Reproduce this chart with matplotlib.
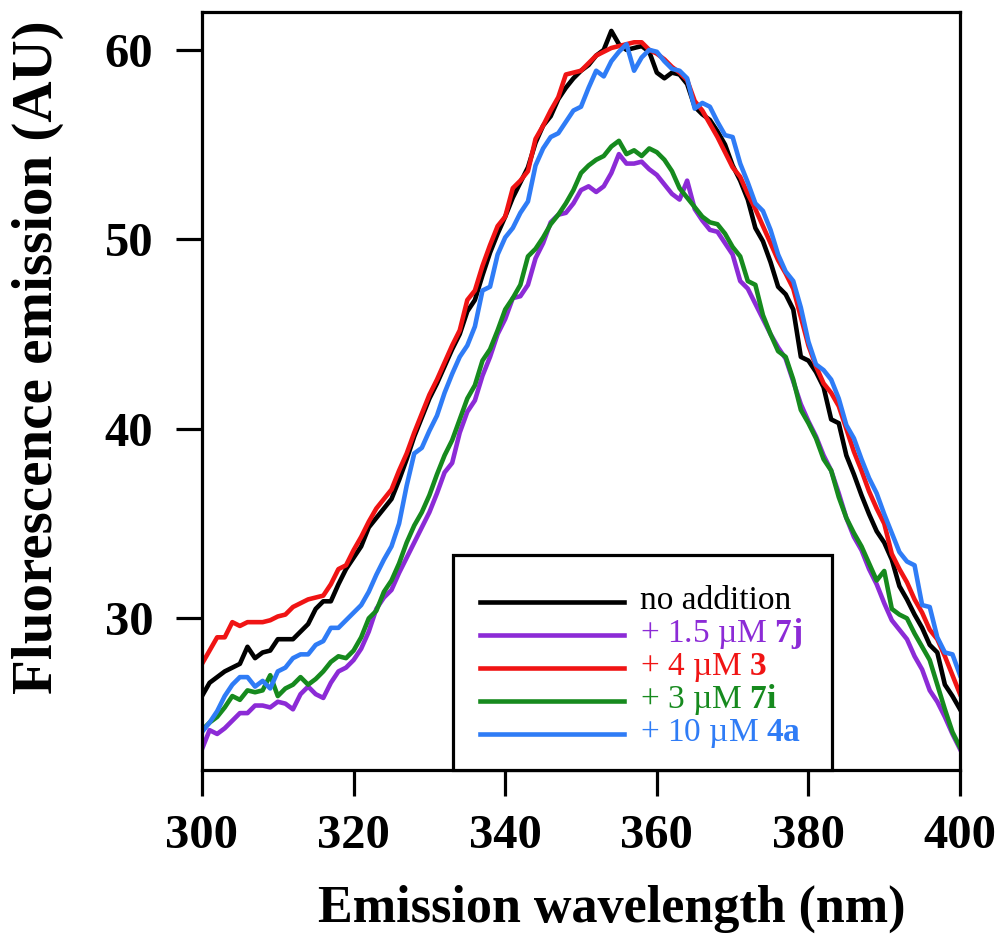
import matplotlib
matplotlib.use('Agg')
import matplotlib.pyplot as plt
from matplotlib.patches import Rectangle
import numpy as np

plt.rcParams['font.family'] = ['Liberation Serif', 'DejaVu Serif']
plt.rcParams['mathtext.fontset'] = 'custom'
plt.rcParams['mathtext.rm'] = 'Liberation Serif'
plt.rcParams['mathtext.bf'] = 'Liberation Serif:bold'

# wavelength, 1 nm steps
wavelength = np.arange(300, 401)

no_addition = [
    25.9, 26.6, 26.9, 27.2, 27.4, 27.6, 28.5, 27.9, 28.2, 28.3, 28.9, 28.9, 28.9, 29.3, 29.7, 30.5, 30.9, 30.9, 31.8, 32.6,
    33.2, 33.8, 34.8, 35.3, 35.8, 36.3, 37.3, 38.4, 39.6, 40.6, 41.6, 42.4, 43.3, 44.2, 45.0, 46.2, 46.8, 48.1, 49.3, 50.3,
    51.2, 52.2, 53.0, 53.8, 55.1, 56.0, 56.5, 57.4, 58.0, 58.5, 58.9, 59.2, 59.7, 60.0, 61.0, 60.3, 60.0, 60.1, 60.2, 59.9,
    58.8, 58.5, 58.8, 58.7, 58.2, 57.0, 56.6, 56.3, 55.7, 55.0, 53.9, 53.1, 52.1, 50.6, 49.9, 48.8, 47.5, 47.1, 46.3, 43.8,
    43.6, 43.0, 42.2, 40.5, 40.3, 38.6, 37.6, 36.5, 35.5, 34.6, 34.0, 33.1, 31.7, 31.0, 30.2, 29.5, 28.6, 28.2, 26.5, 25.9,
    25.2]

cpd_7j = [
    23.1, 24.1, 23.9, 24.2, 24.6, 25.0, 25.0, 25.4, 25.4, 25.3, 25.6, 25.5, 25.2, 26.0, 26.4, 26.0, 25.8, 26.6, 27.2, 27.4,
    27.8, 28.4, 29.3, 30.5, 31.1, 31.5, 32.4, 33.2, 34.0, 34.8, 35.6, 36.6, 37.7, 38.2, 39.8, 40.9, 41.5, 42.8, 43.8, 45.0,
    45.8, 46.9, 47.0, 47.6, 49.0, 49.8, 50.9, 51.3, 51.4, 51.9, 52.6, 52.8, 52.5, 52.8, 53.5, 54.5, 54.0, 54.0, 54.1, 53.7,
    53.4, 52.9, 52.4, 52.1, 53.1, 51.6, 51.0, 50.5, 50.4, 49.8, 49.2, 47.8, 47.4, 46.6, 45.8, 45.0, 44.3, 43.7, 42.5, 41.3,
    40.4, 39.6, 38.6, 37.8, 36.6, 35.3, 34.3, 33.6, 32.6, 31.8, 30.8, 29.9, 29.4, 28.9, 28.0, 27.3, 26.2, 25.6, 24.8, 23.9,
    23.1]

cpd_3 = [
    27.6, 28.3, 29.0, 29.0, 29.8, 29.6, 29.8, 29.8, 29.8, 29.9, 30.1, 30.2, 30.6, 30.8, 31.0, 31.1, 31.2, 31.8, 32.6, 32.8,
    33.6, 34.3, 35.1, 35.8, 36.3, 36.8, 37.8, 38.7, 39.8, 40.8, 41.8, 42.6, 43.5, 44.4, 45.2, 46.8, 47.3, 48.6, 49.7, 50.7,
    51.2, 52.7, 53.1, 53.6, 55.3, 56.0, 56.8, 57.5, 58.7, 58.8, 58.9, 59.3, 59.7, 59.9, 60.1, 60.2, 60.3, 60.4, 60.4, 60.0,
    59.8, 59.5, 59.1, 58.8, 58.4, 57.3, 56.8, 56.1, 55.4, 54.6, 53.8, 53.3, 52.4, 51.6, 50.7, 49.8, 48.9, 48.2, 47.4, 45.9,
    44.4, 43.3, 42.4, 41.9, 41.2, 40.0, 38.8, 37.8, 36.7, 35.8, 35.0, 33.4, 32.6, 31.9, 31.0, 30.3, 29.4, 28.9, 28.0, 27.0,
    26.0]

cpd_7i = [
    24.1, 24.5, 24.8, 25.3, 25.9, 25.7, 26.2, 26.1, 26.2, 27.0, 25.9, 26.3, 26.5, 26.9, 26.5, 26.8, 27.2, 27.7, 28.0, 27.9,
    28.3, 29.0, 30.0, 30.4, 31.4, 32.0, 32.9, 34.0, 34.9, 35.6, 36.5, 37.6, 38.6, 39.4, 40.5, 41.6, 42.3, 43.6, 44.2, 45.2,
    46.3, 46.9, 47.6, 49.1, 49.5, 50.1, 50.8, 51.3, 51.9, 52.6, 53.5, 53.9, 54.2, 54.4, 54.9, 55.2, 54.5, 54.7, 54.4, 54.8,
    54.6, 54.2, 53.6, 52.7, 52.2, 51.7, 51.2, 50.9, 50.8, 50.3, 49.6, 49.1, 47.8, 47.6, 46.0, 45.0, 44.1, 43.8, 42.6, 41.0,
    40.3, 39.5, 38.4, 37.8, 36.4, 35.3, 34.5, 33.8, 32.9, 32.0, 32.5, 30.5, 30.2, 30.0, 29.2, 28.5, 27.8, 26.5, 25.2, 24.0,
    23.2]

cpd_4a = [
    24.0, 24.5, 25.1, 25.9, 26.5, 26.9, 26.9, 26.4, 26.7, 26.3, 27.2, 27.4, 27.9, 28.1, 28.1, 28.6, 28.8, 29.5, 29.5, 29.9,
    30.3, 30.7, 31.4, 32.3, 33.1, 33.8, 35.0, 37.0, 38.7, 39.0, 39.9, 40.7, 41.9, 42.9, 43.8, 44.4, 45.4, 47.3, 47.5, 49.2,
    50.1, 50.6, 51.4, 52.0, 53.9, 54.8, 55.4, 55.6, 56.2, 56.8, 57.0, 58.0, 58.9, 58.6, 59.4, 59.9, 60.3, 58.9, 59.6, 60.0,
    59.9, 59.4, 59.0, 58.9, 58.5, 56.9, 57.2, 57.0, 56.2, 55.5, 55.4, 54.0, 53.0, 51.9, 51.5, 50.5, 49.2, 48.3, 47.8, 46.4,
    44.6, 43.4, 43.1, 42.6, 41.6, 40.2, 39.5, 38.4, 37.4, 36.6, 35.5, 34.5, 33.5, 33.0, 32.8, 30.7, 30.6, 29.0, 28.2, 28.1,
    27.0]

series = [no_addition, cpd_7j, cpd_3, cpd_7i, cpd_4a]
labels = ['no addition',
          r'+ 1.5 µM $\mathbf{7j}$',
          r'+ 4 µM $\mathbf{3}$',
          r'+ 3 µM $\mathbf{7i}$',
          r'+ 10 µM $\mathbf{4a}$']
colors = ['#000000', '#8C2BD6', '#F01414', '#168A1E', '#2F7CF6']

fig = plt.figure(figsize=(9.96, 9.43), dpi=100)
ax = fig.add_axes([0.2028, 0.1835, 0.7611, 0.8038])

for y, lab, c in zip(series, labels, colors):
    ax.plot(wavelength, y, color=c, lw=3.3, label=lab)

ax.set_xlim(300, 400)
ax.set_ylim(22, 62)
ax.set_xticks(np.arange(300, 401, 20))
ax.set_yticks([30, 40, 50, 60])

for s in ax.spines.values():
    s.set_linewidth(2.3)
ax.tick_params(axis='both', direction='out', length=19, width=2.3,
               labelsize=35, top=False, right=False)
ax.tick_params(axis='x', pad=13)
ax.tick_params(axis='y', pad=16)
for t in ax.get_xticklabels() + ax.get_yticklabels():
    t.set_fontweight('bold')

ax.set_xlabel('Emission wavelength (nm)', fontsize=37.5, fontweight='bold')
ax.set_ylabel('Fluorescence emission (AU)', fontsize=41, fontweight='bold')
ax.xaxis.set_label_coords(0.54, -0.152)
ax.yaxis.set_label_coords(-0.182, 0.545)

# legend box drawn by hand so it sits on the bottom spine like the original
ax.add_patch(Rectangle((0.331, 0.0), 0.5, 0.2836, transform=ax.transAxes,
                       facecolor='white', edgecolor='black', lw=2.3,
                       clip_on=False, zorder=5))
row_y = 0.2216 - 0.0434 * np.arange(len(labels))
for ry, lab, c in zip(row_y, labels, colors):
    ax.plot([0.3668, 0.5567], [ry, ry], transform=ax.transAxes, color=c,
            lw=3.3, clip_on=False, zorder=6)
    ax.text(0.5778, ry - 0.0095, lab, transform=ax.transAxes, color=c,
            fontsize=24, va='baseline', ha='left', zorder=6)

fig.savefig('out.png', dpi=100)
